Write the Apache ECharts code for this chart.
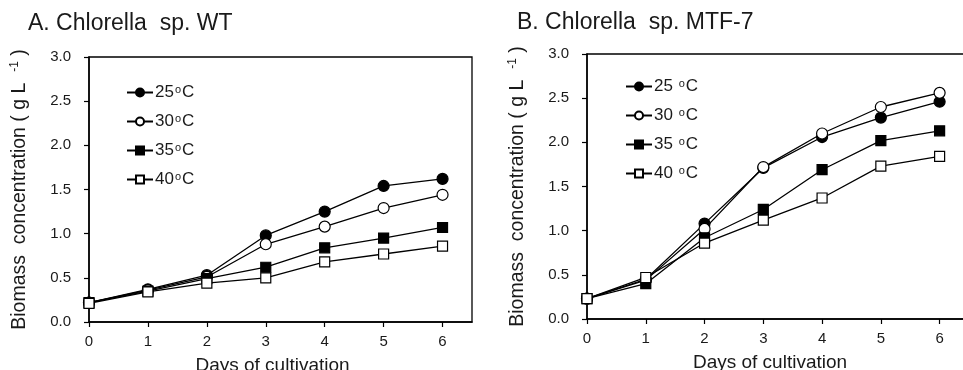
<!DOCTYPE html>
<html><head><meta charset="utf-8">
<script src="https://cdn.jsdelivr.net/npm/echarts@6/dist/echarts.min.js"></script>
<style>html,body{margin:0;padding:0;background:#fff}#c{width:963px;height:370px}</style>
</head><body><div id="c"></div>
<script>
const days = [0, 1, 2, 3, 4, 5, 6];
const xTicks = [0, 1, 2, 3, 4, 5, 6];
const yTicks = [0, 0.5, 1.0, 1.5, 2.0, 2.5, 3.0];
const titleA = 'A. Chlorella  sp. WT';
const titleB = 'B. Chlorella  sp. MTF-7';
const tempsA = ['25', '30', '35', '40'];
// Panel A: Chlorella sp. WT
const wt25 = [0.22, 0.37, 0.53, 0.98, 1.25, 1.54, 1.62];
const wt30 = [0.22, 0.36, 0.51, 0.88, 1.08, 1.29, 1.44];
const wt35 = [0.22, 0.35, 0.49, 0.62, 0.84, 0.95, 1.07];
const wt40 = [0.21, 0.34, 0.44, 0.50, 0.68, 0.77, 0.86];
// Panel B: Chlorella sp. MTF-7
const mt25 = [0.23, 0.45, 1.08, 1.71, 2.06, 2.28, 2.46];
const mt30 = [0.23, 0.44, 1.02, 1.72, 2.10, 2.40, 2.56];
const mt35 = [0.23, 0.40, 0.92, 1.24, 1.69, 2.02, 2.13];
const mt40 = [0.23, 0.47, 0.86, 1.12, 1.37, 1.73, 1.84];

const FONT = '"Liberation Sans", Arial, sans-serif';
const TXT = '#1a1a1a';
const styles = [
  {symbol: 'circle', size: 11, fill: '#000'},
  {symbol: 'circle', size: 11, fill: '#fff'},
  {symbol: 'rect', size: 10, fill: '#000'},
  {symbol: 'rect', size: 10, fill: '#fff'}
];

function mkSeries(arrs, names, gi) {
  return arrs.map((a, i) => ({
    type: 'line', name: names[i], xAxisIndex: gi, yAxisIndex: gi,
    data: days.map((d, j) => [d, a[j]]),
    symbol: styles[i].symbol, symbolSize: styles[i].size,
    lineStyle: {color: '#000', width: 1.3},
    itemStyle: {color: styles[i].fill, borderColor: '#000', borderWidth: 1.2},
    emphasis: {disabled: true}, z: 2 + i
  }));
}
const namesA = tempsA.map(t => t + '°C');
const namesB = tempsA.map(t => t + ' °C');

function xAx(gi) {
  return {
    type: 'value', gridIndex: gi, min: 0, max: 6.5, interval: 1,
    axisLine: {lineStyle: {color: '#000', width: 1.5}},
    axisTick: {show: true, length: 5, inside: false, customValues: xTicks, lineStyle: {color: '#000', width: 1.2}},
    axisLabel: {customValues: xTicks, margin: 12, fontSize: 15, fontFamily: FONT, color: TXT},
    splitLine: {show: false},
    name: 'Days of cultivation', nameLocation: 'middle', nameGap: 34,
    nameTextStyle: {fontSize: 19, fontFamily: FONT, color: TXT, padding: [0, 16, 0, 0]}
  };
}
function yAx(gi) {
  return {
    type: 'value', gridIndex: gi, min: 0, max: 3, interval: 0.5,
    axisLine: {show: true, lineStyle: {color: '#000', width: 1.5}},
    axisTick: {show: true, length: 5, inside: false, lineStyle: {color: '#000', width: 1.2}},
    axisLabel: {margin: 18, fontSize: 15, fontFamily: FONT, color: TXT, formatter: v => v.toFixed(1)},
    splitLine: {show: false},
    name: 'Biomass  concentration ( g L  {s|-1} )', nameLocation: 'middle', nameGap: 58,
    nameTextStyle: {fontSize: 19.5, fontFamily: FONT, color: TXT,
      rich: {s: {fontSize: 12, fontFamily: FONT, color: TXT, verticalAlign: 'top', padding: [0, 0, 10, 0]}}}
  };
}
function legend(names, left, top) {
  return {
    orient: 'vertical', left: left, top: top, data: names,
    itemWidth: 26, itemHeight: 10, itemGap: 12, selectedMode: false,
    formatter: n => n.replace('°C', '{s|o}C'),
    textStyle: {fontSize: 17, fontFamily: FONT, color: TXT, padding: [0, 0, 0, -3], lineHeight: 17,
      rich: {s: {fontSize: 11, fontFamily: FONT, color: TXT, verticalAlign: 'top', lineHeight: 17, padding: [0, 1, 6, 1]}}}
  };
}

const chart = echarts.init(document.getElementById('c'), null, {renderer: 'canvas'});
chart.setOption({
  animation: false,
  backgroundColor: '#fff',
  title: [
    {text: titleA, left: 28, top: 12, padding: 0, textStyle: {fontSize: 23, fontWeight: 'normal', fontFamily: FONT, color: TXT}},
    {text: titleB, left: 517, top: 11, padding: 0, textStyle: {fontSize: 23, fontWeight: 'normal', fontFamily: FONT, color: TXT}}
  ],
  grid: [
    {left: 89, top: 57, width: 383, height: 265, containLabel: false, outerBoundsMode: 'none', show: true, borderColor: '#000', borderWidth: 1.3, backgroundColor: 'transparent'},
    {left: 587, top: 54, width: 382, height: 265, containLabel: false, outerBoundsMode: 'none', show: true, borderColor: '#000', borderWidth: 1.3, backgroundColor: 'transparent'}
  ],
  xAxis: [xAx(0), xAx(1)],
  yAxis: [yAx(0), yAx(1)],
  legend: [legend(namesA, 121, 79), legend(namesB, 620, 73)],
  series: [...mkSeries([wt25, wt30, wt35, wt40], namesA, 0), ...mkSeries([mt25, mt30, mt35, mt40], namesB, 1)]
});
</script></body></html>
